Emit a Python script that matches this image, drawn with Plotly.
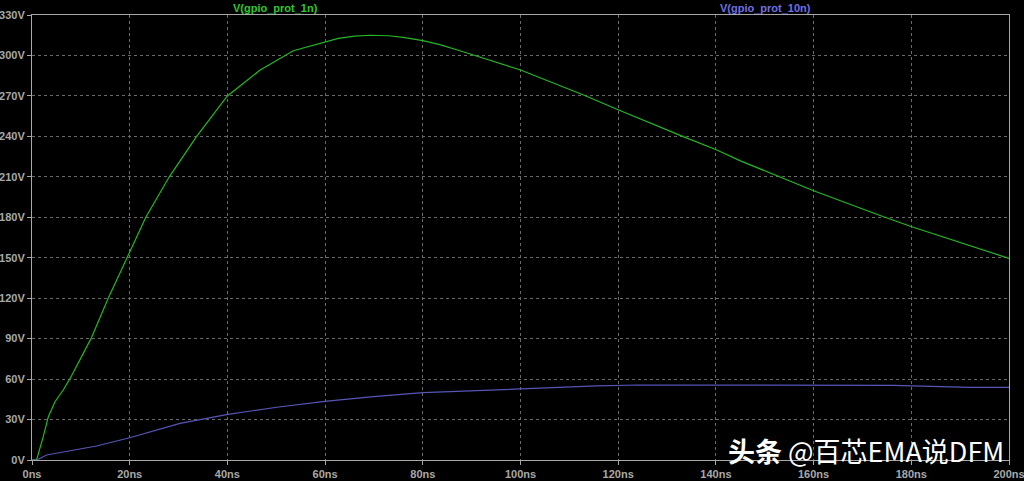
import plotly.graph_objects as go

# Green trace: V(gpio_prot_1n)
t_1n = [0.0, 0.95, 2.3, 3.35, 4.7, 6.4, 7.8, 9.8, 12.1, 15.6, 18.0, 19.4, 23.3, 28.1, 33.7,
        40.0, 46.7, 53.5, 57.0, 59.8, 62.7, 66.0, 69.2, 73.0, 76.0, 80.0, 83.5, 87.6, 90.3, 100.0, 112.9,
        120.1, 133.3, 140.2, 144.9, 153.1, 160.0, 174.3, 180.1, 200.0]
v_1n = [0.0, 0.3, 17.3, 32.1, 43.2, 51.9, 60.5, 74.2, 90.2, 119.9, 138.4, 150.0, 180.0, 210.0, 240.0,
        270.0, 289.2, 303.5, 306.8, 309.5, 312.7, 314.4, 315.0, 314.6, 313.4, 311.0, 308.0, 303.5, 300.3, 289.2, 270.7,
        259.5, 239.8, 229.9, 222.0, 210.0, 199.7, 180.4, 173.0, 149.5]

# Blue trace: V(gpio_prot_10n)
t_10n = [0.0, 0.95, 3.0, 9.8, 13.2, 20.0, 30.3, 40.1, 50.1, 59.9, 69.9, 80.0, 89.7, 95.8,
         102.0, 108.4, 115.6, 124.1, 150.0, 176.3, 192.0, 200.0]
v_10n = [0.0, 0.0, 3.7, 8.0, 10.4, 16.5, 27.2, 33.9, 39.1, 43.5, 47.0, 49.9, 51.4, 51.9,
         52.9, 53.9, 54.9, 55.6, 55.6, 55.4, 53.9, 53.9]

x_tickvals = [0, 20, 40, 60, 80, 100, 120, 140, 160, 180, 200]
x_ticktext = ["0ns", "20ns", "40ns", "60ns", "80ns", "100ns", "120ns", "140ns", "160ns", "180ns", "200ns"]
y_tickvals = [0, 30, 60, 90, 120, 150, 180, 210, 240, 270, 300, 330]
y_ticktext = ["0V", "30V", "60V", "90V", "120V", "150V", "180V", "210V", "240V", "270V", "300V", "330V"]

GREEN = "#22b822"
BLUE = "#5656b8"
GRAY = "#a8a8a8"

fig = go.Figure()
fig.add_trace(go.Scatter(x=t_1n, y=v_1n, mode="lines", line=dict(color=GREEN, width=1.2),
                         name="V(gpio_prot_1n)"))
fig.add_trace(go.Scatter(x=t_10n, y=v_10n, mode="lines", line=dict(color=BLUE, width=1.2),
                         name="V(gpio_prot_10n)"))

axis_font = dict(family="Liberation Sans, Arial, sans-serif", size=11, color=GRAY, weight="bold")

common = dict(showgrid=True, gridcolor="#6a6a6a", griddash="dot", gridwidth=1,
              showline=True, linecolor=GRAY, linewidth=1, mirror=True,
              ticks="outside", ticklen=4, tickcolor=GRAY, tickfont=axis_font,
              zeroline=False, automargin=False, ticklabeloverflow="allow")

fig.update_layout(
    width=1024, height=481,
    paper_bgcolor="black", plot_bgcolor="black",
    margin=dict(l=32, r=15, t=15, b=21, autoexpand=False),
    showlegend=False,
    xaxis=dict(range=[0, 200], tickvals=x_tickvals, ticktext=x_ticktext, ticklabelstandoff=0, **common),
    yaxis=dict(range=[0, 330], tickvals=y_tickvals, ticktext=y_ticktext, ticklabelstandoff=0, **common),
    annotations=[
        dict(text="V(gpio_prot_1n)", x=(275 - 32) / 977, y=1.0, xref="paper", yref="paper",
             xanchor="center", yanchor="bottom", yshift=-1, showarrow=False,
             font=dict(family="Liberation Sans, Arial, sans-serif", size=11, color="#2ec82e", weight="bold")),
        dict(text="V(gpio_prot_10n)", x=(765 - 32) / 977, y=1.0, xref="paper", yref="paper",
             xanchor="center", yanchor="bottom", yshift=-1, showarrow=False,
             font=dict(family="Liberation Sans, Arial, sans-serif", size=11, color="#7070e0", weight="bold")),
        dict(text="<b>头条</b> @百芯EMA说DFM", x=(1006 - 32) / 977, y=(460 - 450) / 445,
             xref="paper", yref="paper", xanchor="right", yanchor="middle", showarrow=False,
             font=dict(family="Noto Sans CJK SC, sans-serif", size=27, color="white")),
    ],
)

fig.write_html("out.html", config={"displayModeBar": False},
               post_script="document.body.style.margin='0';document.body.style.background='black';")
